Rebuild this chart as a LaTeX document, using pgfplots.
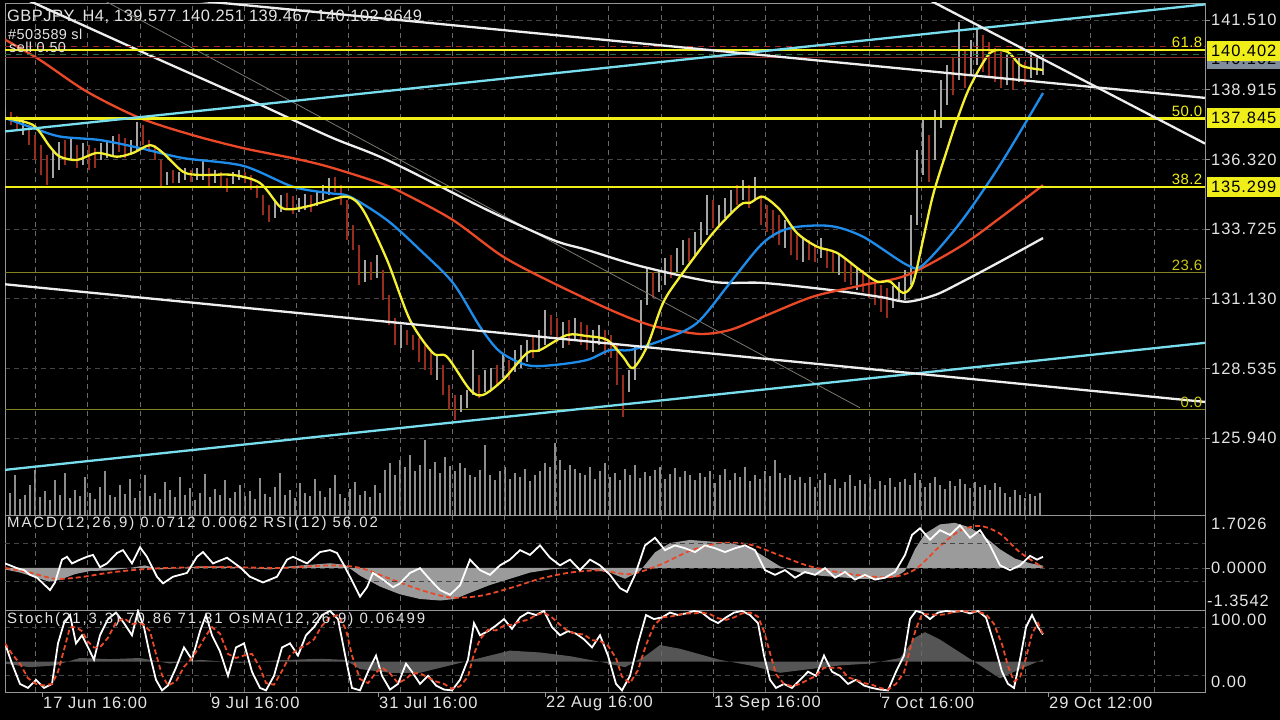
\documentclass[border=0pt]{standalone}
\usepackage{pgfplots}
\pgfplotsset{compat=1.18}
\usepackage{pgfplotstable}
\usepackage{fontspec}
\setmainfont{Liberation Sans}
\newfontfamily\tickfont[LetterSpace=6]{Liberation Sans}
\newfontfamily\titlefont[LetterSpace=3]{Liberation Sans}
\newfontfamily\indfont[LetterSpace=13]{Liberation Sans}
\newcommand\tf{\tickfont\fontsize{16.5}{19}\selectfont}
\definecolor{yel}{RGB}{240,238,25}
\definecolor{yma}{RGB}{245,240,50}
\definecolor{bma}{RGB}{30,140,235}
\definecolor{rma}{RGB}{235,72,40}
\definecolor{wma}{RGB}{238,238,238}
\definecolor{cya}{RGB}{120,222,238}
\definecolor{oli}{RGB}{130,130,35}
\definecolor{cdn}{RGB}{150,45,30}
\definecolor{cup}{RGB}{165,165,165}
\definecolor{vol}{RGB}{140,140,140}
\definecolor{grd}{RGB}{105,105,105}
\definecolor{grd2}{RGB}{70,70,70}
\definecolor{frm}{RGB}{150,150,150}
\definecolor{txt}{RGB}{228,228,228}
\definecolor{hist}{RGB}{155,155,155}
\definecolor{osma}{RGB}{85,85,85}
\definecolor{pbox}{RGB}{128,142,156}
\definecolor{sld}{RGB}{160,40,30}
\definecolor{tpd}{RGB}{40,110,60}
\definecolor{cur}{RGB}{135,45,45}
\definecolor{thinl}{RGB}{120,120,110}

\pgfplotsset{
  panel/.style={scale only axis, width=1200bp, xmin=5, xmax=1205, anchor=south west,
    axis line style={draw=frm, line width=0.9bp},
    xtick={35.7,87.8,139.9,192,244.1,296.2,348.3,400.4,452.5,504.6,556.7,608.8,660.9,713,765.1,817.2,869.3,921.4,973.5,1025.6,1090.7,1154.7},
    xticklabels={}, xmajorgrids, major x tick style={draw=none},
    x grid style={draw=grd, dash pattern=on 5bp off 4bp, line width=0.8bp},
    y grid style={draw=grd2, dash pattern=on 5bp off 4bp, line width=0.8bp}},
  ovl/.style={scale only axis, width=1200bp, xmin=5, xmax=1205, anchor=south west, hide axis},
}

\pgfplotstableread{
lo hi c
137.72 138.23 1
137.60 138.09 0
137.42 137.94 0
137.23 137.79 1
136.85 137.60 0
136.30 137.23 0
135.74 136.85 0
135.36 136.48 0
135.63 136.67 1
135.93 136.97 1
136.11 137.04 0
136.30 137.12 1
136.00 136.85 0
136.11 136.93 1
135.93 136.85 0
136.00 136.74 0
136.30 136.93 1
136.37 137.04 1
136.48 137.20 1
136.60 137.27 0
136.37 137.12 0
136.48 137.04 1
136.67 137.72 1
136.85 137.60 0
136.60 137.04 0
136.30 136.85 0
135.29 136.30 0
135.36 135.86 1
135.44 135.93 0
135.44 135.86 1
135.55 136.00 1
135.48 135.93 0
135.55 136.00 1
135.55 136.30 1
135.25 136.00 0
135.44 135.93 1
135.33 135.86 0
135.11 135.62 0
135.40 135.86 1
135.55 135.93 1
135.44 135.86 0
135.18 135.74 0
134.88 135.36 0
134.25 134.99 0
133.99 134.62 0
134.13 134.81 1
134.37 134.99 1
134.44 135.07 0
134.29 134.96 0
134.37 134.88 1
134.44 135.03 1
134.37 134.99 0
134.59 135.11 1
134.81 135.36 1
134.99 135.62 1
135.11 135.66 0
134.62 135.36 0
133.32 134.81 0
132.95 133.87 0
131.64 133.13 0
131.76 132.58 1
131.83 132.51 0
131.90 132.76 1
131.09 132.20 0
130.15 131.27 0
129.41 130.41 0
129.30 130.15 1
129.41 129.97 0
129.22 129.78 0
128.78 129.67 0
128.48 129.41 0
128.29 129.22 0
128.11 129.03 1
127.55 128.66 0
126.99 127.92 0
126.62 127.55 0
126.92 127.55 1
127.06 127.74 1
127.55 129.22 1
127.43 128.29 0
127.67 128.48 1
127.74 128.55 1
127.92 128.66 0
128.18 129.03 1
128.11 128.85 0
128.41 129.22 1
128.55 129.41 1
128.78 129.60 1
128.92 129.78 0
129.15 129.97 1
129.41 130.71 1
129.78 130.52 0
129.53 130.41 0
129.30 130.27 1
129.41 130.34 0
129.60 130.41 1
129.41 130.27 0
129.22 130.15 0
129.15 129.97 1
129.41 130.15 1
129.03 129.97 0
128.92 129.78 0
127.92 129.41 0
126.73 128.29 0
127.67 128.48 1
128.11 129.41 1
129.22 131.09 1
130.90 132.27 1
131.16 132.13 0
131.39 132.20 1
131.64 132.65 1
131.90 132.76 0
132.13 133.02 1
132.39 133.32 1
132.51 133.39 0
132.76 133.62 1
133.13 133.99 1
133.50 134.99 1
133.76 134.81 0
133.87 134.62 1
134.13 134.88 1
134.37 135.18 1
134.62 135.36 0
134.81 135.55 1
134.51 135.36 0
134.81 135.66 1
133.87 134.99 0
133.62 134.62 0
133.39 134.44 0
133.13 134.25 0
133.02 134.06 1
132.76 133.69 0
132.58 133.50 0
132.51 133.39 1
132.58 133.32 0
132.51 133.13 0
132.65 133.39 1
132.27 133.02 0
132.13 132.88 0
132.01 132.76 1
131.76 132.65 0
131.64 132.51 0
131.46 132.27 1
131.39 132.20 0
131.16 132.01 0
130.90 131.83 0
130.64 131.64 0
130.41 131.53 0
130.78 131.61 1
131.02 131.76 1
131.09 132.20 1
131.64 134.25 1
133.87 136.67 1
135.74 137.79 1
135.48 137.23 0
136.30 138.16 1
137.49 139.28 1
138.34 139.84 1
138.71 140.09 0
139.28 141.44 1
138.97 140.39 0
139.46 140.77 1
139.84 141.21 1
139.58 140.96 0
139.35 140.70 0
139.21 140.46 0
138.97 140.32 0
139.09 140.21 1
138.90 140.02 0
139.21 140.09 1
139.09 139.95 0
139.35 140.21 1
139.46 140.09 1
139.47 140.25 1
}\candles

\pgfplotstableread[row sep=\\]{v\\
18\\22\\40\\16\\20\\30\\45\\18\\24\\15\\
35\\20\\42\\17\\25\\19\\38\\22\\16\\28\\
44\\20\\18\\30\\21\\36\\17\\24\\40\\19\\
22\\16\\33\\25\\18\\38\\20\\27\\15\\22\\
41\\18\\26\\20\\35\\17\\23\\30\\19\\24\\
16\\37\\21\\18\\28\\42\\20\\25\\17\\32\\
22\\19\\36\\24\\18\\27\\40\\21\\17\\26\\
33\\20\\24\\18\\30\\22\\
45\\52\\40\\55\\48\\60\\44\\50\\75\\46\\53\\42\\58\\49\\44\\52\\47\\40\\
38\\45\\70\\40\\35\\44\\48\\36\\42\\38\\46\\34\\40\\44\\
52\\48\\72\\55\\45\\50\\46\\42\\
40\\48\\36\\44\\52\\38\\42\\35\\46\\40\\50\\37\\43\\39\\45\\48\\36\\41\\47\\38\\44\\40\\35\\42\\
38\\44\\32\\40\\46\\35\\42\\38\\48\\34\\40\\36\\44\\39\\55\\42\\37\\40\\35\\38\\
32\\38\\28\\35\\42\\30\\36\\27\\33\\40\\29\\35\\31\\38\\26\\34\\30\\37\\28\\33\\
36\\30\\42\\35\\28\\32\\38\\30\\26\\34\\29\\36\\31\\27\\33\\28\\30\\25\\32\\28\\
22\\18\\25\\20\\17\\21\\19\\22\\
}\voldata

\begin{document}
\begin{tikzpicture}[x=1bp,y=1bp]
\fill[black] (0,0) rectangle (1280,720);
\useasboundingbox (0,0) rectangle (1280,720);

% ---------- volume (behind) ----------
\begin{axis}[ovl, at={(5bp,205bp)}, height=512bp, ymin=0, ymax=512]
\addplot[ycomb, draw=vol, line width=2bp, mark=none] table[x expr=\coordindex*5+5, y=v]{\voldata};
\end{axis}

% ---------- main price panel ----------
\begin{axis}[panel, at={(5bp,205bp)}, height=512bp, ymin=123.08, ymax=142.143,
  ytick={125.94,128.535,131.13,133.725,136.32,138.915,141.51},
  ymajorgrids, ytick pos=right, yticklabel pos=right, tick align=outside,
  major y tick style={draw=frm, line width=0.9bp}, major tick length=5bp,
  yticklabel style={font=\tf, text=txt, inner sep=1bp,
    /pgf/number format/.cd, fixed, fixed zerofill, precision=3, assume math mode=true},
  colormap={candle}{color=(cdn) color=(cdn) color=(cup) color=(cup)},
  point meta min=0, point meta max=1]
% fib thin levels
\addplot[oli, line width=1bp] coordinates {(5,132.12) (1205,132.12)};
\addplot[oli, line width=1bp] coordinates {(5,127.01) (1205,127.01)};
% candles (low to high, coloured by direction)
\addplot[-, mark=none, line width=2bp, point meta=\thisrow{c},
  quiver={u=0, v=\thisrow{hi}-\thisrow{lo}, colored=mapped color}]
  table[x expr=\coordindex*6+5, y=lo]{\candles};
% thin grey trendline
\addplot[thinl, line width=0.8bp] coordinates {(103,142.26) (860,127.07)};
% moving averages
\addplot[wma, line width=2.3bp, smooth] coordinates {(5,142.63) (36,142.11) (100,141.03) (160,140.02) (250,138.53) (330,137.16) (387,136.30) (487,134.44) (553,133.32) (587,132.95) (640,132.35) (713,131.76) (763,131.72) (830,131.46) (880,131.20) (907,131.02) (935,131.27) (960,131.72) (1000,132.51) (1043,133.39)};
\addplot[rma, line width=2.3bp, smooth] coordinates {(5,140.78) (40,140.02) (87,138.84) (140,137.86) (192,137.23) (243,136.74) (296,136.34) (330,136.03) (380,135.44) (403,135.07) (453,134.06) (503,132.70) (553,131.72) (603,130.84) (630,130.41) (650,130.15) (663,130.04) (700,129.82) (730,129.97) (763,130.46) (813,131.21) (863,131.64) (907,132.01) (960,133.07) (1000,134.14) (1043,135.36)};
\addplot[bma, line width=2.3bp, smooth] coordinates {(5,137.86) (33,137.49) (60,137.17) (100,137.04) (140,136.74) (183,136.37) (243,136.08) (293,135.30) (330,135.06) (350,134.93) (387,134.06) (420,132.95) (453,131.72) (480,130.09) (500,129.16) (527,128.66) (553,128.66) (587,128.85) (610,129.22) (630,129.22) (663,129.60) (697,130.23) (730,131.72) (763,133.21) (790,133.76) (830,133.84) (863,133.44) (907,132.39) (923,132.39) (960,133.95) (1000,136.11) (1043,138.79)};
\addplot[yma, line width=2.3bp, smooth] coordinates {(5,137.86) (33,137.60) (50,136.79) (60,136.42) (77,136.30) (97,136.56) (117,136.42) (133,136.56) (150,136.85) (163,136.56) (183,135.86) (200,135.74) (233,135.74) (260,135.44) (280,134.56) (293,134.47) (313,134.62) (320,134.70) (347,134.93) (363,134.44) (387,132.58) (410,130.34) (433,129.11) (447,128.97) (470,127.74) (483,127.55) (503,128.11) (527,129.11) (540,129.22) (567,129.78) (587,129.74) (607,129.60) (623,128.97) (633,128.55) (647,129.35) (663,130.97) (680,131.95) (713,133.58) (740,134.62) (750,134.70) (763,134.93) (780,134.44) (797,133.58) (817,133.07) (837,132.84) (860,132.20) (877,131.77) (890,131.77) (903,131.35) (913,131.72) (923,133.32) (933,134.99) (947,136.67) (957,137.79) (970,139.03) (990,140.28) (1007,140.33) (1020,139.84) (1030,139.72) (1043,139.65)};
% order / price lines
\addplot[sld, line width=1bp, dash pattern=on 6bp off 5bp] coordinates {(5,140.51) (1205,140.51)};
\addplot[tpd, line width=1bp, dash pattern=on 6bp off 5bp] coordinates {(5,140.21) (1205,140.21)};
\addplot[cur, line width=1bp] coordinates {(5,140.102) (1205,140.102)};
% fibonacci main levels
\addplot[yel, line width=2.4bp] coordinates {(5,140.402) (1205,140.402)};
\addplot[yel, line width=2.4bp] coordinates {(5,137.845) (1205,137.845)};
\addplot[yel, line width=2.4bp] coordinates {(5,135.299) (1205,135.299)};
% trend lines
\addplot[cya, line width=2.3bp] coordinates {(5,137.36) (1205,142.09)};
\addplot[cya, line width=2.3bp] coordinates {(5,124.76) (1205,129.49)};
\addplot[wma, line width=2.3bp] coordinates {(190,142.26) (1205,138.61)};
\addplot[wma, line width=2.3bp] coordinates {(930,142.24) (1205,136.91)};
\addplot[wma, line width=2.3bp] coordinates {(5,131.67) (1205,127.29)};
% fib labels
\node[anchor=south east, inner sep=1.5bp, text=yel, font=\titlefont\fontsize{15}{17}\selectfont] at (axis cs:1204,140.402) {61.8};
\node[anchor=south east, inner sep=1.5bp, text=yel, font=\titlefont\fontsize{15}{17}\selectfont] at (axis cs:1204,137.845) {50.0};
\node[anchor=south east, inner sep=1.5bp, text=yel, font=\titlefont\fontsize{15}{17}\selectfont] at (axis cs:1204,135.299) {38.2};
\node[anchor=south east, inner sep=1.5bp, text=yel!85!black, font=\titlefont\fontsize{15}{17}\selectfont] at (axis cs:1204,132.12) {23.6};
\node[anchor=south east, inner sep=1.5bp, text=yel!85!black, font=\titlefont\fontsize{15}{17}\selectfont] at (axis cs:1204,127.01) {0.0};
\end{axis}

% ---------- MACD panel ----------
\begin{axis}[panel, at={(5bp,110bp)}, height=95bp, ymin=-1.3542, ymax=1.7026,
  ytick={0}, yticklabels={}, ymajorgrids, major y tick style={draw=none}]
\addplot[fill=hist, draw=none] coordinates {(5,0) (5,-0.05) (20,-0.15) (35,-0.3) (50,-0.45) (60,-0.38) (75,-0.2) (90,-0.1) (110,-0.08) (130,0.0) (145,0.08) (160,-0.05) (180,0.0) (200,0.05) (220,0.05) (250,0.0) (270,-0.05) (290,0.05) (310,0.1) (330,0.15) (345,0.1) (360,-0.25) (380,-0.6) (400,-0.85) (420,-1.0) (440,-1.05) (455,-1.0) (470,-0.8) (490,-0.55) (510,-0.35) (530,-0.15) (550,-0.05) (570,0.0) (590,-0.05) (610,-0.15) (625,-0.35) (640,-0.1) (655,0.5) (670,0.8) (690,0.9) (710,0.85) (730,0.8) (750,0.65) (765,0.35) (780,0.05) (800,-0.15) (820,-0.25) (840,-0.3) (860,-0.35) (880,-0.35) (895,-0.3) (905,-0.1) (915,0.6) (925,1.1) (940,1.4) (955,1.45) (970,1.3) (985,1.0) (1000,0.6) (1015,0.3) (1030,0.15) (1043,0.07) (1043,0)};
\addplot[rma, line width=1.8bp, dash pattern=on 5bp off 3bp, smooth] coordinates {(5,0.0) (30,-0.15) (55,-0.35) (80,-0.3) (110,-0.15) (140,-0.05) (170,0.0) (220,0.03) (280,0.0) (330,0.08) (360,0.0) (390,-0.35) (420,-0.7) (450,-0.95) (480,-0.9) (510,-0.65) (540,-0.35) (570,-0.15) (600,-0.08) (630,-0.2) (660,0.1) (690,0.55) (720,0.8) (750,0.75) (780,0.4) (810,0.05) (850,-0.2) (890,-0.3) (915,-0.05) (940,0.7) (960,1.2) (980,1.35) (1000,1.1) (1020,0.5) (1043,0.01)};
\end{axis}
\begin{axis}[ovl, at={(5bp,110bp)}, height=95bp, ymin=0, ymax=100]
\addplot[grd2, line width=0.8bp, dash pattern=on 5bp off 4bp] coordinates {(5,70) (1205,70)};
\addplot[grd2, line width=0.8bp, dash pattern=on 5bp off 4bp] coordinates {(5,30) (1205,30)};
\addplot[white, line width=1.8bp] coordinates {(5,49) (10,47) (17,44) (24,42) (30,37) (37,34) (43,28) (50,21) (55,29) (62,53) (67,56) (72,49) (80,53) (87,56) (93,58) (100,45) (107,49) (117,60) (123,63) (132,49) (140,66) (147,56) (157,35) (163,28) (173,35) (187,39) (197,56) (203,61) (213,49) (227,55) (240,45) (250,35) (263,29) (277,35) (287,53) (293,56) (307,49) (320,61) (330,63) (337,60) (343,49) (350,35) (360,14) (367,24) (373,39) (383,32) (393,24) (400,28) (410,39) (420,44) (430,32) (440,21) (450,16) (460,26) (470,53) (480,42) (490,37) (500,47) (510,53) (520,63) (530,58) (540,68) (550,55) (560,47) (570,53) (580,42) (590,53) (600,47) (610,37) (620,23) (627,19) (635,37) (645,68) (655,76) (665,63) (675,68) (685,65) (695,61) (705,68) (715,65) (725,61) (735,65) (745,68) (755,63) (765,42) (775,37) (785,42) (795,34) (805,40) (815,37) (825,44) (835,34) (845,40) (855,32) (865,37) (875,32) (885,34) (895,40) (905,58) (912,79) (920,86) (930,74) (940,84) (950,79) (960,89) (970,76) (980,84) (990,68) (1000,47) (1010,42) (1020,47) (1030,57) (1037,53) (1043,56)};
\end{axis}

% ---------- Stochastic panel ----------
\begin{axis}[ovl, at={(5bp,28bp)}, height=82bp, ymin=-0.82, ymax=1.40]
\addplot[fill=osma, draw=none] coordinates {(5,0) (5,-0.05) (30,-0.15) (55,-0.1) (80,0.1) (110,0.07) (140,0.1) (170,-0.05) (200,0.05) (240,-0.03) (280,0.04) (320,0.08) (345,0.05) (360,-0.2) (390,-0.3) (420,-0.3) (450,-0.1) (480,0.1) (510,0.3) (540,0.25) (570,0.15) (600,0.0) (625,-0.15) (645,0.15) (660,0.45) (680,0.35) (700,0.2) (720,0.05) (750,-0.1) (780,-0.3) (810,-0.2) (840,-0.1) (870,-0.05) (900,0.1) (915,0.65) (925,0.8) (940,0.6) (960,0.25) (980,-0.1) (1000,-0.45) (1020,-0.2) (1043,0.06) (1043,0)};
\end{axis}
\begin{axis}[panel, at={(5bp,28bp)}, height=82bp, ymin=0, ymax=101.2,
  ytick={20,80}, yticklabels={}, ymajorgrids, major y tick style={draw=none}]
\addplot[white, line width=1.8bp] coordinates {(5,60) (12,35) (20,10) (28,5) (36,15) (44,5) (52,10) (58,60) (64,85) (70,95) (76,60) (82,70) (88,55) (94,40) (100,70) (108,90) (116,98) (124,85) (132,70) (138,100) (144,80) (150,45) (156,15) (162,2) (168,8) (176,30) (184,55) (192,40) (200,75) (206,95) (212,70) (220,50) (228,20) (236,55) (244,60) (252,25) (260,5) (266,2) (274,20) (282,55) (290,60) (298,45) (306,70) (314,80) (322,95) (330,100) (338,90) (346,40) (352,5) (360,2) (368,25) (376,45) (382,20) (390,3) (398,10) (406,35) (412,25) (420,10) (428,20) (436,8) (444,3) (452,2) (460,15) (468,40) (474,85) (480,70) (488,75) (496,82) (504,90) (512,78) (520,92) (528,98) (536,95) (544,100) (552,80) (560,70) (568,75) (576,72) (584,65) (592,55) (600,70) (608,45) (616,10) (622,2) (630,20) (638,60) (646,95) (654,90) (662,92) (670,98) (678,95) (686,97) (694,100) (702,98) (710,90) (718,85) (726,92) (734,98) (742,100) (750,95) (758,85) (764,45) (770,15) (776,5) (784,10) (792,5) (800,15) (808,25) (816,20) (824,45) (832,25) (840,20) (848,10) (856,15) (864,8) (872,5) (880,3) (888,2) (896,25) (904,45) (910,90) (916,100) (922,98) (930,90) (938,98) (946,100) (954,99) (962,100) (970,97) (978,100) (986,92) (994,60) (1002,25) (1008,10) (1014,5) (1020,40) (1026,80) (1032,95) (1038,80) (1043,71)};
\addplot[rma, line width=1.8bp, dash pattern=on 5bp off 3bp] coordinates {(5,60) (12,47) (20,35) (28,17) (36,10) (44,8) (52,10) (58,25) (64,52) (70,80) (76,80) (82,75) (88,62) (94,55) (100,55) (108,67) (116,86) (124,91) (132,84) (138,85) (144,83) (150,75) (156,47) (162,21) (168,8) (176,13) (184,31) (192,42) (200,57) (206,70) (212,80) (220,72) (228,47) (236,42) (244,45) (252,47) (260,30) (266,11) (274,9) (282,26) (290,45) (298,53) (306,58) (314,65) (322,82) (330,92) (338,95) (346,77) (352,45) (360,16) (368,11) (376,24) (382,30) (390,23) (398,11) (406,16) (412,23) (420,23) (428,18) (436,13) (444,10) (452,4) (460,7) (468,19) (474,47) (480,65) (488,77) (496,76) (504,82) (512,83) (520,87) (528,89) (536,95) (544,98) (552,92) (560,83) (568,75) (576,72) (584,71) (592,64) (600,63) (608,57) (616,42) (622,19) (630,11) (638,27) (646,58) (654,82) (662,92) (670,93) (678,95) (686,97) (694,97) (702,98) (710,96) (718,91) (726,89) (734,92) (742,97) (750,98) (758,93) (764,75) (770,48) (776,22) (784,10) (792,7) (800,10) (808,15) (816,20) (824,30) (832,30) (840,30) (848,18) (856,15) (864,11) (872,9) (880,5) (888,3) (896,10) (904,24) (910,53) (916,78) (922,96) (930,96) (938,95) (946,96) (954,99) (962,100) (970,99) (978,99) (986,96) (994,84) (1002,59) (1008,32) (1014,13) (1020,18) (1026,42) (1032,72) (1038,85) (1043,71)};
\end{axis}

% ---------- texts ----------
\node[anchor=west, inner sep=0, text=txt, font=\titlefont\fontsize{16.5}{19}\selectfont] at (7,703) {GBPJPY, H4, 139.577 140.251 139.467 140.102 8649};
\node[anchor=west, inner sep=0, text=txt, font=\titlefont\fontsize{14.5}{16}\selectfont] at (8,686) {\#503589 sl};
\node[anchor=west, inner sep=0, text=txt, font=\titlefont\fontsize{14.5}{16}\selectfont] at (9,673) {sell 0.50};
\node[anchor=west, inner sep=0, text=txt, font=\indfont\fontsize{15}{17}\selectfont] at (7,196) {MACD(12,26,9) 0.0712 0.0062 RSI(12) 56.02};
\node[anchor=west, inner sep=0, text=txt, font=\indfont\fontsize{15}{17}\selectfont] at (7,100) {Stoch(21,3,3) 70.86 71.31 OsMA(12,26,9) 0.06499};

% right-hand highlighted price boxes
\node[anchor=west, fill=pbox, text=black, minimum height=20bp, minimum width=73bp, inner sep=1bp, font=\tf] at (1207,661) {140.102};
\node[anchor=west, fill=yel, text=black, minimum height=20bp, minimum width=73bp, inner sep=1bp, font=\tf] at (1207,669) {140.402};
\node[anchor=west, fill=yel, text=black, minimum height=20bp, minimum width=73bp, inner sep=1bp, font=\tf] at (1207,602) {137.845};
\node[anchor=west, fill=yel, text=black, minimum height=20bp, minimum width=73bp, inner sep=1bp, font=\tf] at (1207,533) {135.299};

% indicator scale labels
\draw[frm, line width=0.9bp] (1205,152) -- (1210,152);
\node[anchor=west, inner sep=1bp, text=txt, font=\tf] at (1210,196) {1.7026};
\node[anchor=west, inner sep=1bp, text=txt, font=\tf] at (1210,152) {0.0000};
\node[anchor=west, inner sep=1bp, text=txt, font=\tf] at (1206,119) {-1.3542};
\node[anchor=west, inner sep=1bp, text=txt, font=\tf] at (1210,100) {100.00};
\node[anchor=west, inner sep=1bp, text=txt, font=\tf] at (1210,38) {0.00};

% date axis
\foreach \xx/\lbl in {42/17 Jun 16:00, 210/9 Jul 16:00, 378/31 Jul 16:00, 545/22 Aug 16:00, 713/13 Sep 16:00, 880/7 Oct 16:00, 1048/29 Oct 12:00}{
  \draw[frm, line width=0.9bp] (\xx,28) -- (\xx,23);
  \node[anchor=west, inner sep=0, text=txt, font=\tf] at (\xx+1,17) {\lbl};
}
\end{tikzpicture}
\end{document}
